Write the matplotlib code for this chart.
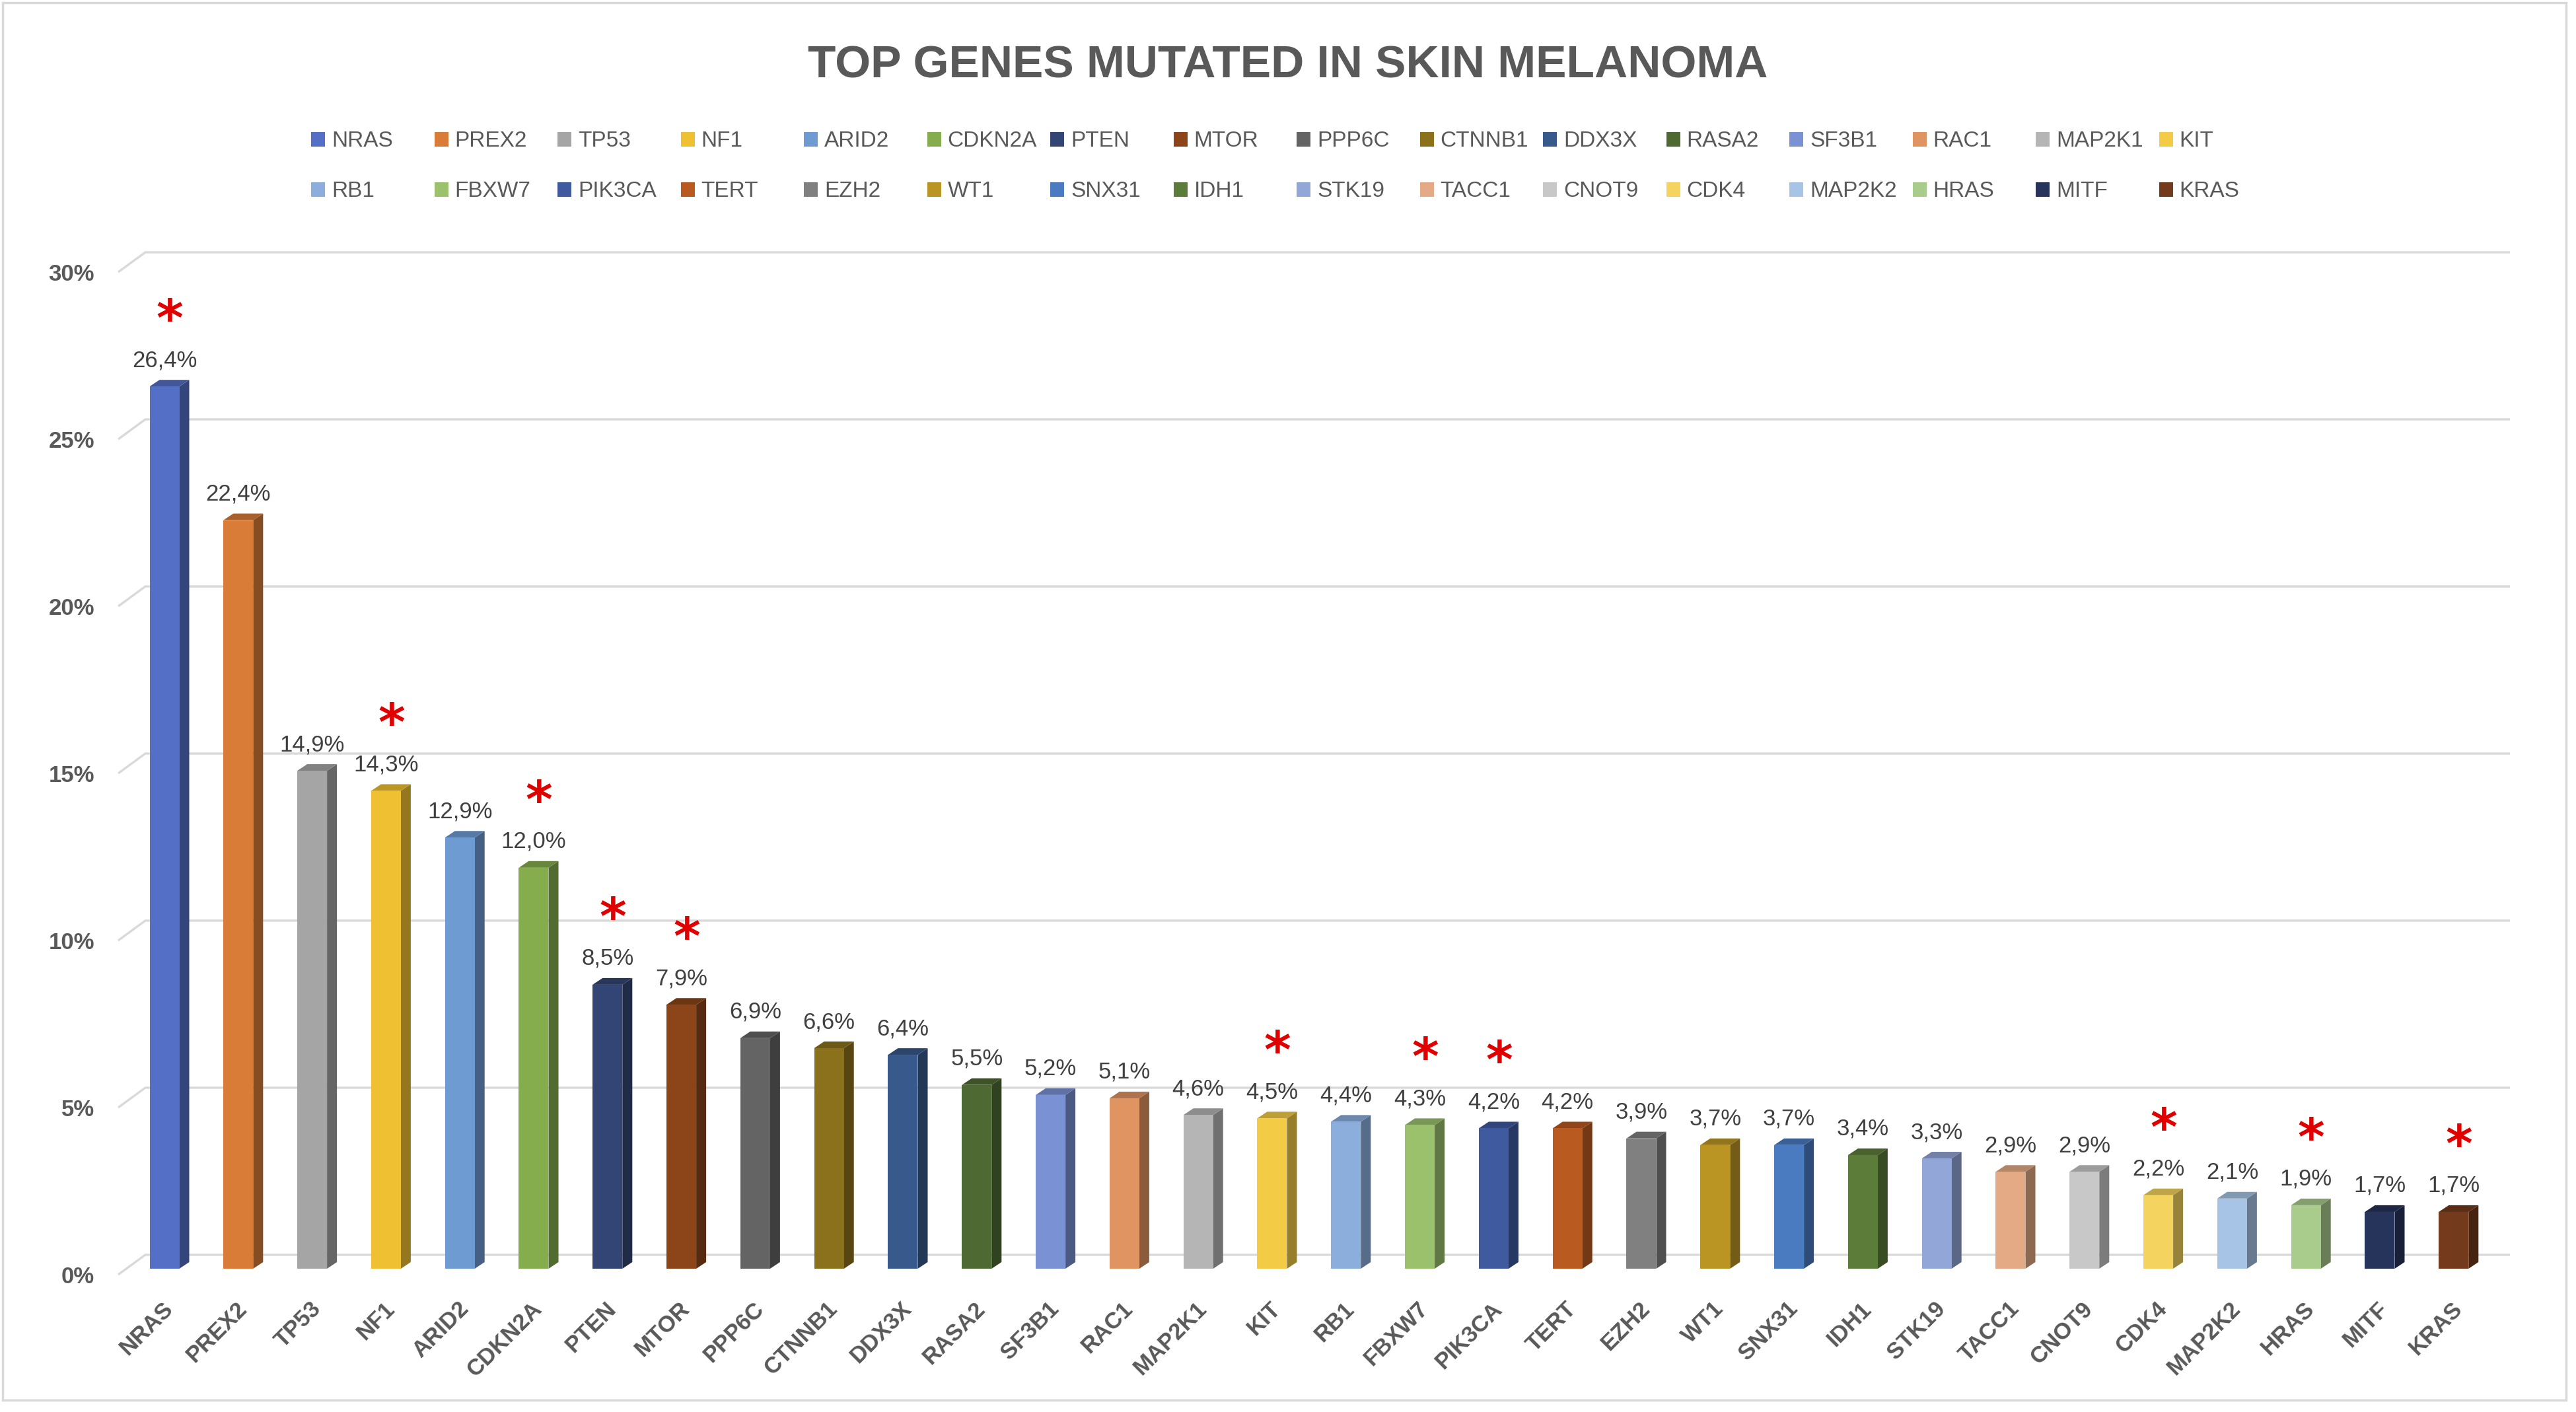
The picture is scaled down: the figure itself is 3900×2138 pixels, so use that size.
import matplotlib
matplotlib.use("Agg")
import matplotlib.pyplot as plt
from matplotlib.patches import Polygon, Rectangle
from matplotlib.transforms import ScaledTranslation
import matplotlib.colors as mcolors
import numpy as np

plt.rcParams['font.family'] = ['Liberation Sans', 'DejaVu Sans']

# ---------------- data ----------------
genes = ["NRAS", "PREX2", "TP53", "NF1", "ARID2", "CDKN2A", "PTEN", "MTOR",
         "PPP6C", "CTNNB1", "DDX3X", "RASA2", "SF3B1", "RAC1", "MAP2K1", "KIT",
         "RB1", "FBXW7", "PIK3CA", "TERT", "EZH2", "WT1", "SNX31", "IDH1",
         "STK19", "TACC1", "CNOT9", "CDK4", "MAP2K2", "HRAS", "MITF", "KRAS"]
values = [26.4, 22.4, 14.9, 14.3, 12.9, 12.0, 8.5, 7.9,
          6.9, 6.6, 6.4, 5.5, 5.2, 5.1, 4.6, 4.5,
          4.4, 4.3, 4.2, 4.2, 3.9, 3.7, 3.7, 3.4,
          3.3, 2.9, 2.9, 2.2, 2.1, 1.9, 1.7, 1.7]
starred = ["NRAS", "NF1", "CDKN2A", "PTEN", "MTOR", "KIT", "FBXW7", "PIK3CA",
           "CDK4", "HRAS", "KRAS"]
colors = ["#5470C6", "#D87C38", "#A5A5A5", "#EEC032", "#6F9BD3", "#85AD4E",
          "#334574", "#8B4518", "#646464", "#8C711C", "#38598C", "#4E6A32",
          "#7A91D4", "#DF9461", "#B5B5B5", "#F4CB45", "#8BAEDC", "#9BC16D",
          "#3F5A9E", "#B95A20", "#808080", "#BB9524", "#4A7BC0", "#5C7C3A",
          "#93A6D8", "#E3AA85", "#C8C8C8", "#F4D35E", "#A7C4E6", "#A9CC8C",
          "#26335A", "#733A1B"]
yticks = [0, 5, 10, 15, 20, 25, 30]
title = "TOP GENES MUTATED IN SKIN MELANOMA"

# ---------------- figure ----------------
W, H, DPI = 3900, 2138, 100
fig = plt.figure(figsize=(W / DPI, H / DPI), dpi=DPI)
fig.patch.set_facecolor("white")

# outer border
fig.add_artist(Rectangle((4 / W, 18 / H), (3885 - 4) / W, (H - 22) / H,
                         transform=fig.transFigure, fill=False,
                         edgecolor="#D9D9D9", lw=2.5))

px_x = 111.8   # pixels per category
px_y = 50.6    # pixels per percent
left_px, right_px = 179, 3780
base_px = 1921
ax = fig.add_axes([left_px / W, (H - base_px) / H,
                   (right_px - left_px) / W, 30 * px_y / H])
x0 = -(249 - left_px) / px_x
x1 = (right_px - 249) / px_x
ax.set_xlim(x0, x1)
ax.set_ylim(0, 30)
for s in ax.spines.values():
    s.set_visible(False)
ax.set_facecolor("none")

# back-wall gridlines with 3D diagonal
gdx = 41 / px_x
gdy = 21 / px_y
gfront = 9 / px_y
xr = (3800 - 249) / px_x
for t in yticks:
    ax.plot([x0, x0 + gdx, xr], [t - gfront, t + gdy, t + gdy],
            color="#D9D9D9", lw=2.4, zorder=0.5, clip_on=False,
            solid_capstyle="butt")

# bars with 3D faces
x = np.arange(len(genes))
bw = 45 / px_x
ddx = 15 / px_x
ddy = 10 / px_y


def shade(c, f):
    r, g, b = mcolors.to_rgb(c)
    return (r * f, g * f, b * f)


ax.bar(x, values, width=bw, color=colors, zorder=3, linewidth=0)
for xi, v, c in zip(x, values, colors):
    side = Polygon([(xi + bw / 2, 0), (xi + bw / 2 + ddx, ddy),
                    (xi + bw / 2 + ddx, v + ddy), (xi + bw / 2, v)],
                   closed=True, facecolor=shade(c, 0.62), edgecolor="none",
                   zorder=2.9)
    top = Polygon([(xi - bw / 2, v), (xi + bw / 2, v),
                   (xi + bw / 2 + ddx, v + ddy), (xi - bw / 2 + ddx, v + ddy)],
                  closed=True, facecolor=shade(c, 0.78), edgecolor="none",
                  zorder=2.9)
    ax.add_patch(side)
    ax.add_patch(top)

# value labels
pt = 72 / DPI  # points per pixel
for xi, v, g in zip(x, values, genes):
    ax.annotate(f"{v:.1f}%".replace(".", ","), xy=(xi, v),
                xytext=(0, 30 * pt), textcoords="offset points",
                ha="center", va="baseline", fontsize=25, color="#404040",
                zorder=5, annotation_clip=False)
    if g in starred:
        ax.annotate("*", xy=(xi, v), xytext=(8 * pt, 76 * pt),
                    textcoords="offset points", ha="center", va="baseline",
                    fontsize=56, fontweight="bold", color="#E00000",
                    family=["DejaVu Sans"], zorder=5, annotation_clip=False)

# y ticks
ax.set_yticks(yticks)
ax.set_yticklabels([f"{t}%" for t in yticks], fontsize=25, fontweight="bold",
                   color="#595959")
ax.tick_params(axis="y", length=0, pad=36 * pt)
for lab in ax.get_yticklabels():
    lab.set_transform(lab.get_transform() +
                      ScaledTranslation(0, -9 / DPI, fig.dpi_scale_trans))

# x ticks
ax.set_xticks(x)
ax.set_xticklabels(genes, rotation=45, ha="right", rotation_mode="anchor",
                   fontsize=25, fontweight="bold", color="#595959")
ax.tick_params(axis="x", length=0, pad=44 * pt)
for lab in ax.get_xticklabels():
    lab.set_transform(lab.get_transform() +
                      ScaledTranslation(-4 / DPI, 0, fig.dpi_scale_trans))

# title
fig.text(0.5, 1 - 117 / H, title, ha="center", va="baseline", fontsize=50,
         fontweight="bold", color="#595959")

# legend (2 rows x 16 columns, uniform column width like the original)
ncol = 16
for k, (g, c) in enumerate(zip(genes, colors)):
    row, col = divmod(k, ncol)
    lx = 471 + col * 186.5
    base = 222 + row * 76
    fig.add_artist(Rectangle((lx / W, 1 - base / H), 21 / W, 22 / H,
                             transform=fig.transFigure, facecolor=c,
                             edgecolor="none"))
    fig.text((lx + 31) / W, 1 - base / H, g, ha="left", va="baseline",
             fontsize=24, color="#595959")

fig.savefig("out.png", dpi=DPI, facecolor="white")
